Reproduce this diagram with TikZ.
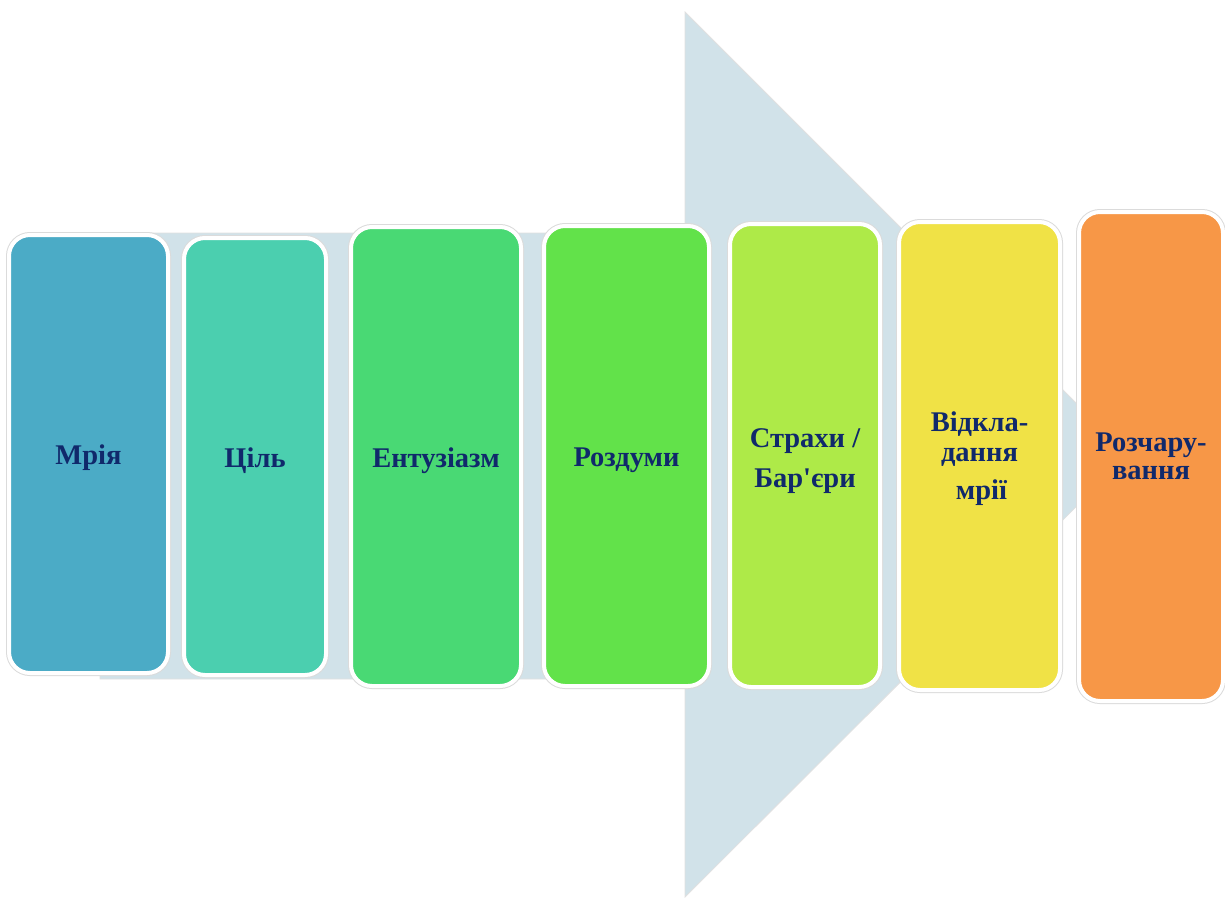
\documentclass[tikz,border=0pt]{standalone}
\usepackage{fontspec}
\setmainfont{Liberation Serif}[Ligatures=TeXOff]
\definecolor{arrowfill}{HTML}{D1E2E9}
\definecolor{txt}{HTML}{10296B}
\definecolor{c1}{HTML}{4BABC6}
\definecolor{c2}{HTML}{4BCFAF}
\definecolor{c3}{HTML}{49D974}
\definecolor{c4}{HTML}{62E24A}
\definecolor{c5}{HTML}{AEEA48}
\definecolor{c6}{HTML}{F0E246}
\definecolor{c7}{HTML}{F79747}
\tikzset{
  stagebox/.style={rectangle, rounded corners=21pt, draw=white, line width=4pt,
    preaction={draw=black!14, line width=6pt},
    inner sep=0pt, outer sep=0pt},
  stagetext/.style={inner sep=0pt, align=center, text=txt,
    font=\fontsize{28.5}{40}\selectfont\bfseries},
  bigarrow/.style={fill=arrowfill, draw=black!12, line width=0.8pt}
}
\begin{document}
\begin{tikzpicture}[x=1pt,y=-1pt]
\useasboundingbox[fill=white] (0,0) rectangle (1225,897);
\coordinate (a1) at (100,233);
\coordinate (a2) at (685,233);
\coordinate (a3) at (685,12);
\coordinate (a4) at (1128,455);
\coordinate (a5) at (685,897);
\coordinate (a6) at (685,679);
\coordinate (a7) at (100,679);
\path[bigarrow] (a1) -- (a2) -- (a3) -- (a4) -- (a5) -- (a6) -- (a7) -- cycle;

\node[stagebox, fill=c1, minimum width=159pt, minimum height=438pt] (b1) at (88.5,454) {};
\node[stagebox, fill=c2, minimum width=142pt, minimum height=437pt] (b2) at (255,456.5) {};
\node[stagebox, fill=c3, minimum width=170pt, minimum height=459pt] (b3) at (436,456.5) {};
\node[stagebox, fill=c4, minimum width=165pt, minimum height=460pt] (b4) at (626.5,456) {};
\node[stagebox, fill=c5, minimum width=150pt, minimum height=463pt] (b5) at (805,455.5) {};
\node[stagebox, fill=c6, minimum width=161pt, minimum height=468pt] (b6) at (979.5,456) {};
\node[stagebox, fill=c7, minimum width=144pt, minimum height=489pt] (b7) at (1151,456.5) {};

\node[stagetext, yshift=-4pt] (t1) at (b1) {Мрія};
\node[stagetext, yshift=-4pt] (t2) at (b2) {Ціль};
\node[stagetext, yshift=-4pt] (t3) at (b3) {Ентузіазм};
\node[stagetext, yshift=-4.5pt] (t4) at (b4) {Роздуми};
\node[stagetext, yshift=-6pt] (t5) at (b5) {Страхи /\\Бар'єри};
\node[stagetext, yshift=-3pt] (t6) at (b6) {Відкла-\\[-10pt]дання\\[-2pt]\hspace*{4pt}мрії};
\node[stagetext] (t7) at (b7) {Розчару-\\[-12pt]вання};
\end{tikzpicture}
\end{document}
